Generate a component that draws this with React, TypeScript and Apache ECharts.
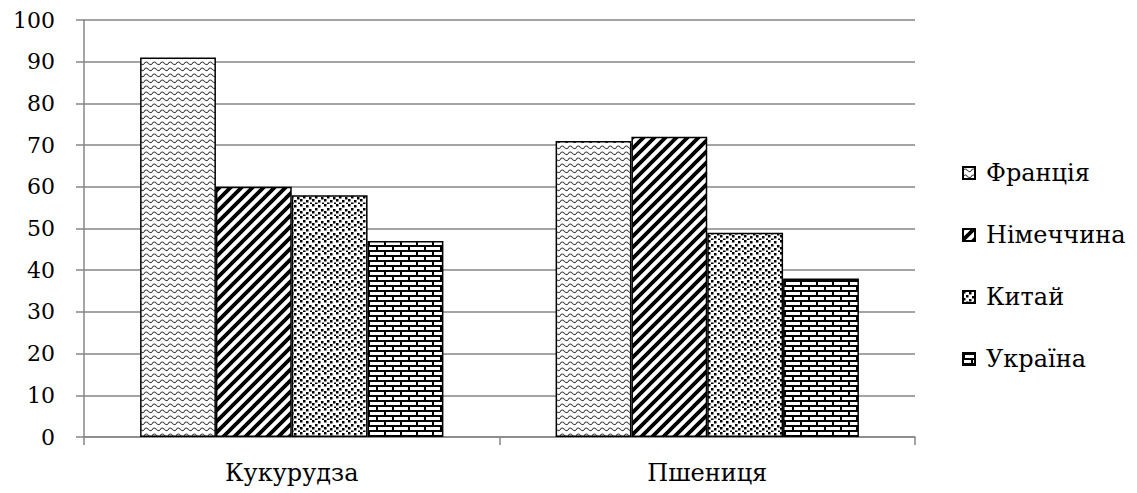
import React, { useEffect, useRef } from "react";
import * as echarts from "echarts";

const categories = ["Кукурудза", "Пшениця"];
const seriesNames = ["Франція", "Німеччина", "Китай", "Україна"];
const franceValues = [91, 71];
const germanyValues = [60, 72];
const chinaValues = [58, 49];
const ukraineValues = [47, 38];
const yTicks = { min: 0, max: 100, interval: 10 };

const FONT = "DejaVu Serif";

function makeCanvas(w: number, h: number, draw: (ctx: CanvasRenderingContext2D) => void) {
  const c = document.createElement("canvas");
  c.width = w;
  c.height = h;
  const ctx = c.getContext("2d")!;
  ctx.fillStyle = "#ffffff";
  ctx.fillRect(0, 0, w, h);
  draw(ctx);
  return c;
}

function wavePattern() {
  return makeCanvas(8, 6, (ctx) => {
    ctx.strokeStyle = "#444";
    ctx.lineWidth = 1.1;
    ctx.beginPath();
    ctx.moveTo(0, 4);
    ctx.quadraticCurveTo(2, 0.5, 4, 3);
    ctx.quadraticCurveTo(6, 5.5, 8, 4);
    ctx.stroke();
  });
}

function diagPattern() {
  const s = 11;
  return makeCanvas(s, s, (ctx) => {
    ctx.strokeStyle = "#000";
    ctx.lineWidth = 3.8;
    ctx.beginPath();
    for (let k = -1; k <= 1; k++) {
      ctx.moveTo(k * s - 2, s + 2);
      ctx.lineTo(k * s + s + 2, -2);
    }
    ctx.stroke();
  });
}

function dotPattern() {
  return makeCanvas(12, 12, (ctx) => {
    ctx.fillStyle = "#000";
    const pts = [
      [0, 0], [6, 1], [3, 4], [9, 5], [0, 7], [6, 8], [3, 10.5], [10, 10.5],
    ];
    for (const [x, y] of pts) ctx.fillRect(x, y, 2.5, 2.5);
  });
}

function brickPattern() {
  return makeCanvas(16, 10, (ctx) => {
    ctx.fillStyle = "#000";
    ctx.fillRect(0, 0, 16, 2);
    ctx.fillRect(0, 5, 16, 2);
    ctx.fillRect(0, 2, 2, 3);
    ctx.fillRect(8, 7, 2, 3);
  });
}

export default function App() {
  const ref = useRef<HTMLDivElement>(null);
  useEffect(() => {
    if (!ref.current) return;
    const chart = echarts.init(ref.current, undefined, { renderer: "svg" });
    const patterns = [wavePattern(), diagPattern(), dotPattern(), brickPattern()];
    const values = [franceValues, germanyValues, chinaValues, ukraineValues];
    chart.setOption({
      animation: false,
      grid: { left: 84, right: 222, top: 20, bottom: 56 },
      legend: {
        orient: "vertical",
        left: 957,
        top: 156,
        itemWidth: 12,
        itemHeight: 12,
        itemGap: 38,
        icon: "rect",
        textStyle: { fontFamily: FONT, fontSize: 24, color: "#000", padding: [0, 0, 0, 6] },
        data: seriesNames,
      },
      xAxis: {
        type: "category",
        data: categories,
        axisLine: { show: true, lineStyle: { color: "#868686", width: 1.5 } },
        axisTick: { show: true, length: 8, lineStyle: { color: "#868686", width: 1.5 } },
        axisLabel: { fontFamily: FONT, fontSize: 24, color: "#000", margin: 24 },
      },
      yAxis: {
        type: "value",
        min: yTicks.min,
        max: yTicks.max,
        interval: yTicks.interval,
        axisLine: { show: true, lineStyle: { color: "#868686", width: 1.5 } },
        axisTick: { show: true, length: 8, lineStyle: { color: "#868686", width: 1.5 } },
        axisLabel: { fontFamily: FONT, fontSize: 22, color: "#000", margin: 29 },
        splitLine: { show: true, lineStyle: { color: "#868686", width: 1.5 } },
      },
      series: seriesNames.map((name, i) => ({
        name,
        type: "bar",
        data: values[i],
        barGap: "0%",
        barCategoryGap: "27%",
        itemStyle: {
          color: { image: patterns[i], repeat: "repeat", imageWidth: patterns[i].width, imageHeight: patterns[i].height },
          borderColor: "#000",
          borderWidth: 1.5,
        },
      })),
    });
    return () => chart.dispose();
  }, []);
  return <div ref={ref} style={{ width: 1137, height: 493, position: "absolute", left: 0, top: 0 }} />;
}
